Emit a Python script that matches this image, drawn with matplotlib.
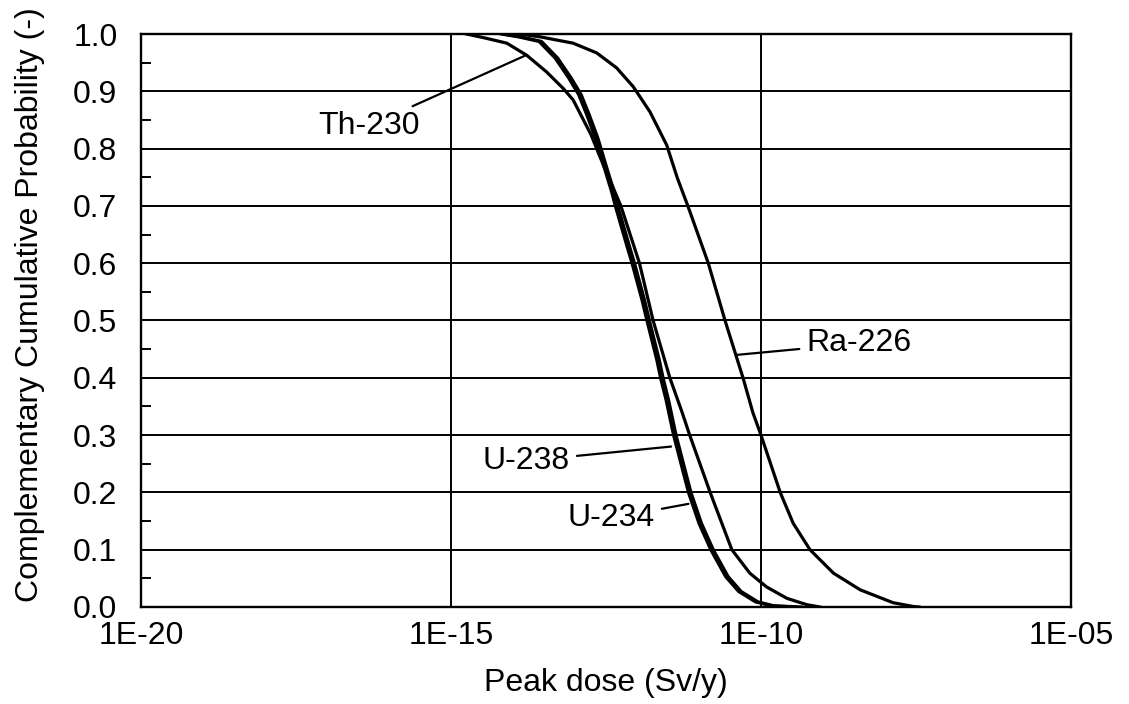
import numpy as np
import matplotlib
matplotlib.use('Agg')
import matplotlib.pyplot as plt
from matplotlib.ticker import FixedLocator, FuncFormatter, NullLocator

plt.rcParams['font.family'] = ['Liberation Sans', 'DejaVu Sans']

# 读图得到的数据: 剂量取 log10 值, 纵轴为互补累积概率
prob_u234 = [1.0, 0.995, 0.987, 0.958, 0.923, 0.894, 0.859, 0.818, 0.771, 0.725, 0.70, 0.629, 0.60,
             0.536, 0.50, 0.431, 0.40, 0.361, 0.30, 0.20, 0.146, 0.10, 0.053, 0.027, 0.009, 0.002, 0.0]
logd_u234 = [-14.19, -13.91, -13.58, -13.32, -13.10, -12.94, -12.81, -12.67, -12.54, -12.41, -12.35, -12.16, -12.08,
             -11.92, -11.84, -11.68, -11.62, -11.53, -11.41, -11.17, -11.00, -10.81, -10.57, -10.36, -10.09, -9.83, -9.45]

prob_u238 = [1.0, 0.995, 0.987, 0.958, 0.923, 0.894, 0.859, 0.818, 0.771, 0.725, 0.70, 0.629, 0.60,
             0.536, 0.50, 0.431, 0.40, 0.361, 0.30, 0.20, 0.146, 0.10, 0.053, 0.027, 0.009, 0.002, 0.0]
logd_u238 = [-14.15, -13.87, -13.54, -13.28, -13.06, -12.90, -12.77, -12.63, -12.50, -12.37, -12.31, -12.12, -12.04,
             -11.88, -11.80, -11.64, -11.58, -11.49, -11.37, -11.13, -10.96, -10.77, -10.53, -10.32, -10.05, -9.79, -9.35]

prob_th230 = [1.0, 0.993, 0.984, 0.963, 0.934, 0.905, 0.885, 0.824, 0.789, 0.70, 0.60, 0.50, 0.40,
              0.339, 0.30, 0.20, 0.10, 0.059, 0.035, 0.015, 0.004, 0.0]
logd_th230 = [-14.75, -14.45, -14.10, -13.78, -13.46, -13.19, -13.03, -12.74, -12.61, -12.26, -11.96, -11.74, -11.47,
              -11.27, -11.15, -10.82, -10.47, -10.18, -9.91, -9.58, -9.26, -9.05]

prob_ra226 = [1.0, 0.995, 0.984, 0.967, 0.941, 0.908, 0.864, 0.806, 0.749, 0.70, 0.60, 0.50, 0.40,
              0.339, 0.30, 0.20, 0.146, 0.10, 0.059, 0.03, 0.0075, 0.001, 0.0]
logd_ra226 = [-13.9, -13.56, -13.03, -12.65, -12.33, -12.06, -11.79, -11.52, -11.35, -11.18, -10.85, -10.58, -10.29,
              -10.13, -10.0, -9.69, -9.48, -9.21, -8.83, -8.40, -7.87, -7.55, -7.45]

xticks = [1e-20, 1e-15, 1e-10, 1e-5]
xticklabels = ['1E-20', '1E-15', '1E-10', '1E-05']

fig = plt.figure(figsize=(11.29, 7.04), dpi=100)
ax = fig.add_axes([0.1249, 0.1378, 0.8237, 0.8139])

for lg, p in [(logd_th230, prob_th230), (logd_u238, prob_u238),
              (logd_u234, prob_u234), (logd_ra226, prob_ra226)]:
    ax.plot(10 ** np.array(lg), p, color='black', linewidth=2.3, solid_joinstyle='round')

ax.set_xscale('log')
ax.set_xlim(1e-20, 1e-5)
ax.set_ylim(0.0, 1.0)
ax.xaxis.set_major_locator(FixedLocator(xticks))
ax.xaxis.set_major_formatter(FuncFormatter(lambda v, pos: xticklabels[pos] if pos is not None and pos < 4 else ''))
ax.xaxis.set_minor_locator(NullLocator())
ax.set_yticks(np.arange(0, 1.01, 0.1))
ax.set_yticklabels(['%.1f' % v for v in np.arange(0, 1.01, 0.1)])
ax.set_yticks(np.arange(0.05, 1.0, 0.1), minor=True)

ax.grid(True, which='major', color='black', linewidth=1.4)
ax.tick_params(axis='both', which='major', direction='in', length=0, labelsize=23, pad=10)
ax.tick_params(axis='y', which='major', pad=17)
ax.tick_params(axis='y', which='minor', direction='in', length=7, width=1.4)
for s in ax.spines.values():
    s.set_linewidth(1.7)

ax.set_xlabel('Peak dose (Sv/y)', fontsize=23, labelpad=12)
ax.set_ylabel('Complementary Cumulative Probability (-)', fontsize=23)
ax.yaxis.set_label_coords(-0.103, 0.527)

lbl = dict(fontsize=23, ha='right', va='center',
           arrowprops=dict(arrowstyle='-', color='black', linewidth=1.6, shrinkA=3, shrinkB=0))
ax.annotate('Th-230', xy=(10 ** -13.81, 0.962), xytext=(10 ** -15.5, 0.84), **lbl)
ax.annotate('U-238', xy=(10 ** -11.45, 0.28), xytext=(10 ** -13.08, 0.255), **lbl)
ax.annotate('U-234', xy=(10 ** -11.17, 0.18), xytext=(10 ** -11.71, 0.155), **lbl)
lbl['ha'] = 'left'
ax.annotate('Ra-226', xy=(10 ** -10.39, 0.44), xytext=(10 ** -9.27, 0.46), **lbl)

plt.savefig('out.png', dpi=100)
